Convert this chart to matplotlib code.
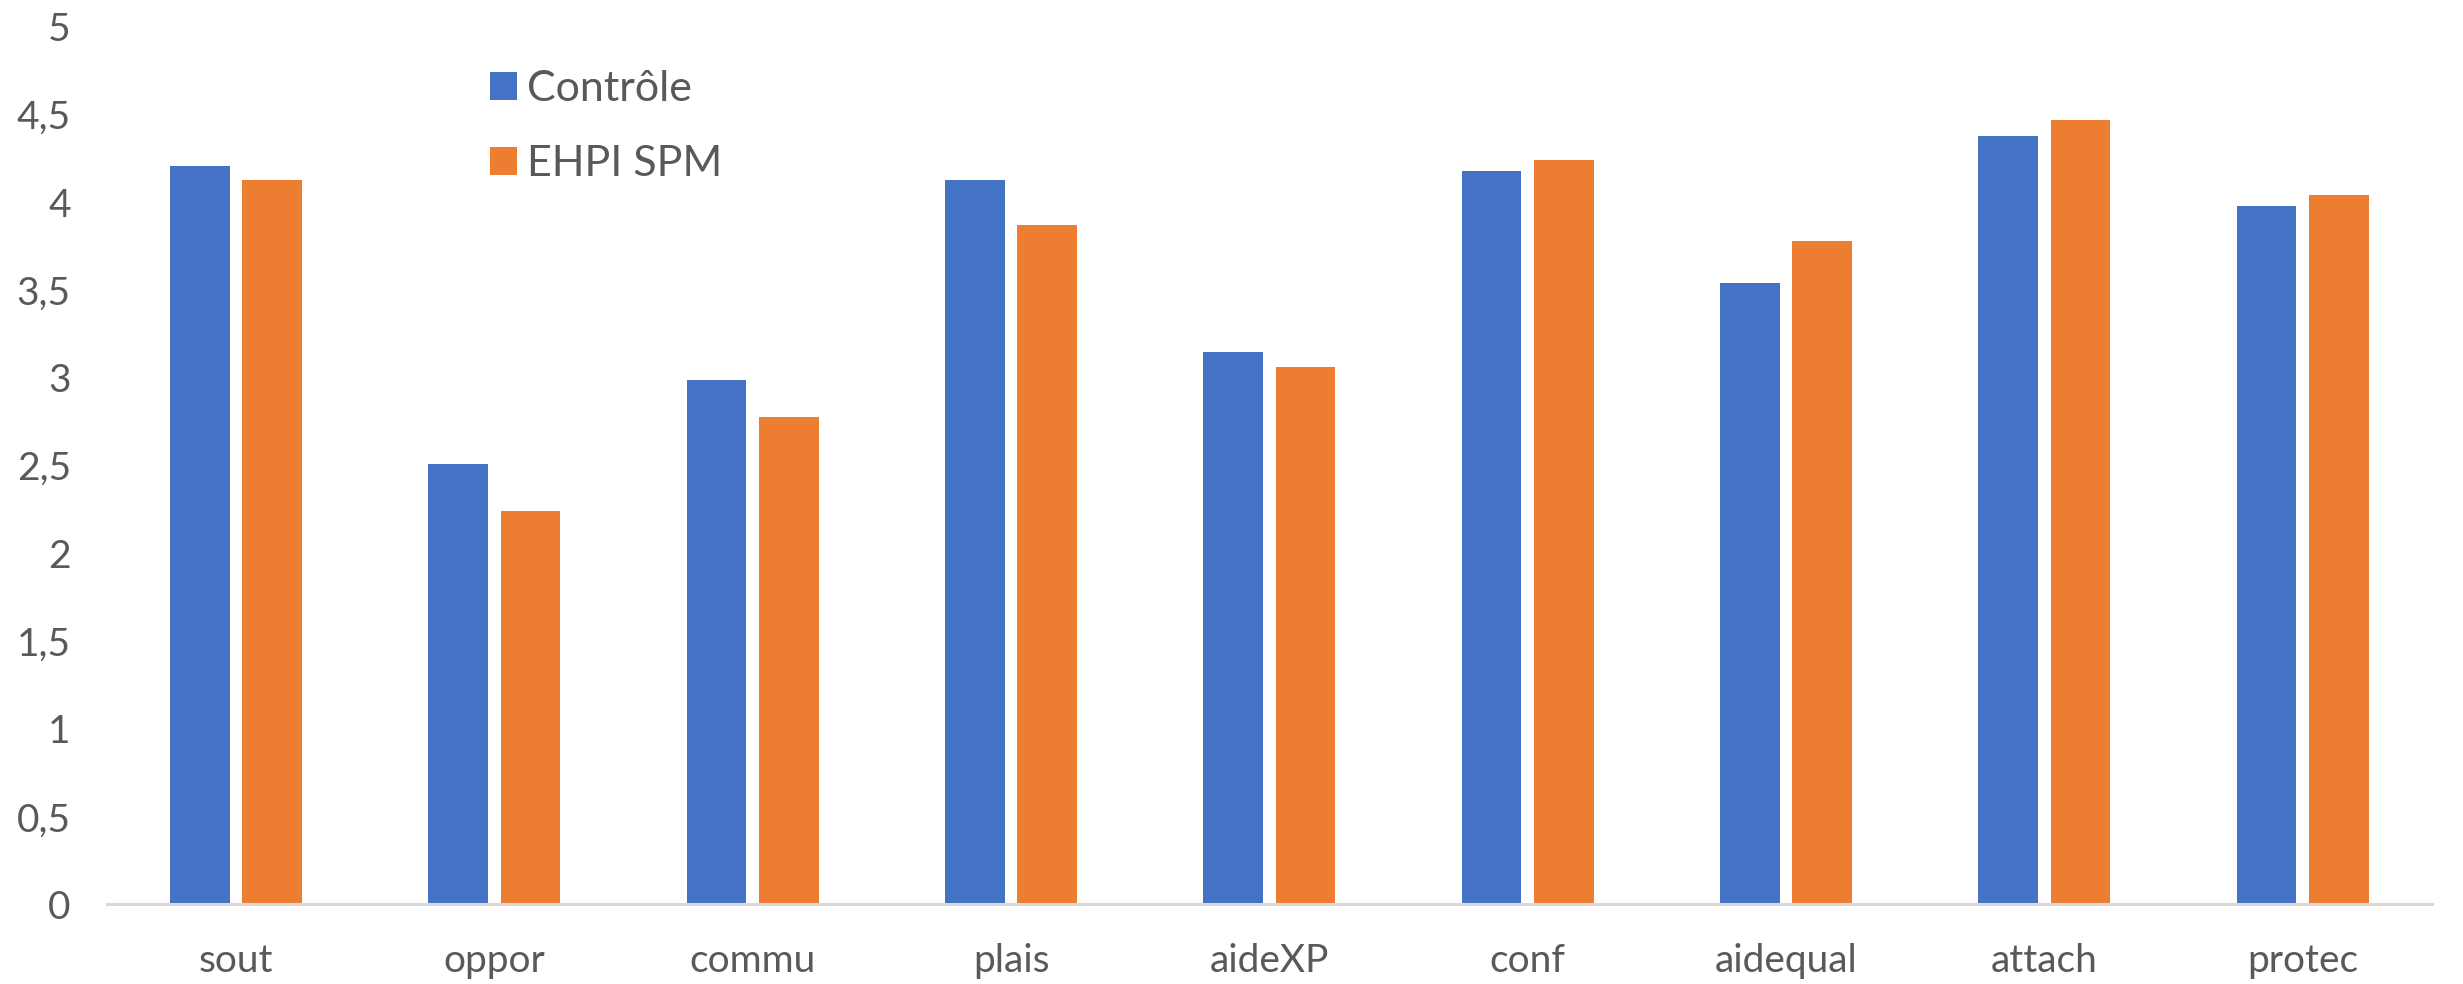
import numpy as np
import matplotlib
matplotlib.use("Agg")
import matplotlib.pyplot as plt

# Données
categories = ["sout", "oppor", "commu", "plais", "aideXP", "conf", "aidequal", "attach", "protec"]
controle = [4.21, 2.51, 2.99, 4.13, 3.15, 4.18, 3.54, 4.38, 3.98]
ehpi_spm = [4.13, 2.24, 2.78, 3.87, 3.06, 4.24, 3.78, 4.47, 4.04]
series_noms = ["Contrôle", "EHPI SPM"]
yticks = [0, 0.5, 1, 1.5, 2, 2.5, 3, 3.5, 4, 4.5, 5]
ytick_labels = ["0", "0,5", "1", "1,5", "2", "2,5", "3", "3,5", "4", "4,5", "5"]

plt.rcParams['font.family'] = ['Lato', 'DejaVu Sans']
gris = '#595959'

fig = plt.figure(figsize=(24.63, 9.84), dpi=100)
ax = fig.add_axes([0.0434, 0.0808, 0.9440, 0.8918])

x = np.arange(len(categories))
largeur = 0.231
decalage = largeur / 2 + 0.0245
ax.bar(x - decalage, controle, width=largeur, color='#4472C4', label=series_noms[0])
ax.bar(x + decalage, ehpi_spm, width=largeur, color='#ED7D31', label=series_noms[1])

ax.set_xlim(-0.5, len(categories) - 0.5)
ax.set_ylim(0, 5)
ax.set_yticks(yticks)
ax.set_yticklabels(ytick_labels)
ax.set_xticks(x)
ax.set_xticklabels(categories)
ax.tick_params(axis='y', length=0, pad=26, labelsize=28, labelcolor=gris)
ax.tick_params(axis='x', length=0, pad=28, labelsize=28, labelcolor=gris)

for cote in ['top', 'right', 'left']:
    ax.spines[cote].set_visible(False)
ax.spines['bottom'].set_color('#D9D9D9')
ax.spines['bottom'].set_linewidth(2.2)

leg = ax.legend(loc='upper left', bbox_to_anchor=(0.1647, 0.951), frameon=False,
                fontsize=31, handlelength=0.62, handleheight=0.62, handletextpad=0.25,
                labelspacing=0.86, borderpad=0, borderaxespad=0)
for t in leg.get_texts():
    t.set_color(gris)

fig.savefig('out.png', dpi=100)
